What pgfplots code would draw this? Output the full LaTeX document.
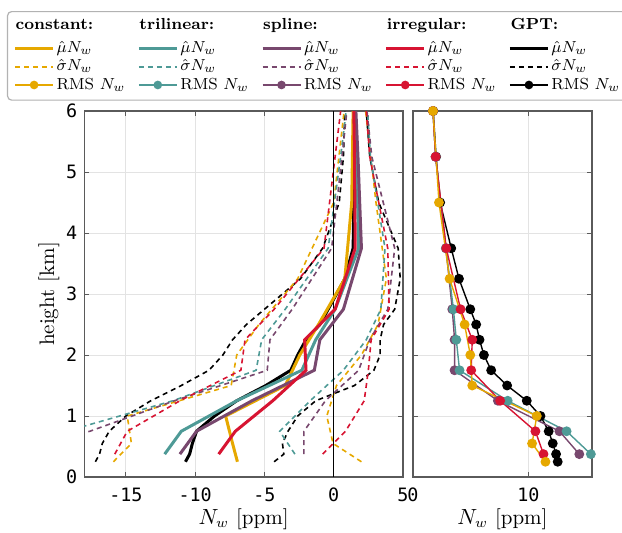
\documentclass[border=0pt]{standalone}
\usepackage{pgfplots}
\pgfplotsset{compat=1.18}
\usepackage{fontspec}
\newfontfamily\tickfont{DejaVu Sans Mono}
\definecolor{cgold}{RGB}{230,168,0}
\definecolor{cteal}{RGB}{78,154,150}
\definecolor{cpurp}{RGB}{120,72,110}
\definecolor{cred}{RGB}{215,20,50}
\definecolor{frame}{RGB}{90,90,90}
\pgfplotsset{
  mu/.style={line width=1.5pt},
  sig/.style={line width=0.8pt, dash pattern=on 2.5pt off 2pt},
  rms/.style={line width=0.7pt, mark=*, mark size=2.1pt, mark options={solid}},
  hdr/.style={legend image code/.code={\path[draw=none,fill=none] (0pt,-9pt) -- (0pt,2pt); \node[overlay,anchor=west,inner sep=0pt,font=\footnotesize\bfseries,text=black] at (0pt,-2pt) {#1};}},
  common/.style={
    scale only axis, height=183pt, ymin=0, ymax=6,
    ytick={0,1,2,3,4,5,6},
    axis line style={frame, line width=0.6pt},
    major tick style={frame, line width=0.5pt},
    major tick length=2.5pt,
    tick align=inside,
    grid=major, major grid style={gray!22, line width=0.5pt},
    tick label style={font=\tickfont\fontsize{9.2}{11}\selectfont},
    xticklabel style={yshift=-2pt},
    label style={font=\fontsize{10.5}{12}\selectfont},
    xlabel shift=-3.5pt,
  },
}
\begin{document}
\begin{tikzpicture}
\begin{axis}[common,
  width=159.35pt,
  xmin=-18, xmax=5,
  xtick={-15,-10,-5,0,5}, xticklabels={-15,-10,-5,0,5},
  yticklabels={0,1,2,3,4,5,6},
  xlabel={$N_w$ [ppm]}, ylabel={height [km]},
  ylabel shift=-3.5pt,
  legend columns=5,
  legend image code/.code={\draw[mark repeat=2,mark phase=2] plot coordinates {(0pt,0pt) (9.5pt,0pt) (19pt,0pt)};},
  legend style={at={(-0.2426,1.2732)}, anchor=north west, draw=gray!60, line width=0.6pt,
    rounded corners=2pt, font=\footnotesize, legend cell align=left,
    /tikz/every even column/.append style={column sep=5pt},
    nodes={inner sep=1pt}, inner sep=3pt},
]
% sigma dashed lines (left and right)
\addplot[sig, black, forget plot] coordinates {(-17.2,0.25) (-16.9,0.375) (-16.7,0.55) (-16.2,0.75) (-15.0,1.0) (-13.2,1.25) (-11.0,1.5) (-9.0,1.75) (-8.0,2.0) (-7.3,2.25) (-6.3,2.5) (-5.0,2.75) (-2.4,3.25) (-0.8,3.75) (0.4,4.5) (0.7,5.25) (0.8,6.0)};
\addplot[sig, black, forget plot] coordinates {(-4.3,0.25) (-3.6,0.375) (-3.7,0.55) (-3.3,0.75) (-2.6,1.0) (-1.3,1.25) (1.5,1.5) (2.9,1.75) (3.35,2.0) (3.35,2.25) (3.6,2.5) (4.4,2.75) (4.8,3.25) (4.65,3.75) (3.25,4.5) (2.6,5.25) (2.35,6.0)};
\addplot[sig, cgold, forget plot] coordinates {(-15.9,0.25) (-14.6,0.55) (-14.9,1.0) (-7.4,1.5) (-7.0,2.0) (-5.4,2.5) (-2.6,3.25) (0.0,4.5) (0.75,6.0)};
\addplot[sig, cgold, forget plot] coordinates {(2.0,0.25) (-0.05,0.55) (-0.5,1.0) (0.2,1.5) (2.0,2.0) (3.2,2.5) (3.8,3.25) (3.05,4.5) (2.3,6.0)};
\addplot[sig, cteal, forget plot] coordinates {(-23,0.375) (-19.3,0.75) (-11.6,1.25) (-5.6,1.75) (-5.2,2.25) (-3.5,2.75) (-0.4,3.75) (0.5,5.25) (0.9,6.0)};
\addplot[sig, cteal, forget plot] coordinates {(-2.8,0.375) (-3.9,0.75) (-1.7,1.25) (0.7,1.75) (2.35,2.25) (3.4,2.75) (3.7,3.75) (2.65,5.25) (2.45,6.0)};
\addplot[sig, cpurp, forget plot] coordinates {(-24,0.375) (-17.6,0.75) (-11.5,1.25) (-4.8,1.75) (-4.6,2.25) (-3.0,2.75) (-0.15,3.75) (0.6,5.25) (0.95,6.0)};
\addplot[sig, cpurp, forget plot] coordinates {(-2.15,0.375) (-2.15,0.75) (-0.6,1.25) (1.8,1.75) (2.6,2.25) (3.9,2.75) (4.4,3.75) (2.75,5.25) (2.4,6.0)};
\addplot[sig, cred, forget plot] coordinates {(-15.8,0.375) (-14.9,0.75) (-11.1,1.25) (-6.7,1.75) (-6.4,2.25) (-4.3,2.75) (-0.7,3.75) (0.1,5.25) (0.5,6.0)};
\addplot[sig, cred, forget plot] coordinates {(-0.8,0.375) (0.85,0.75) (2.2,1.25) (2.5,1.75) (2.7,2.25) (4.0,2.75) (3.9,3.75) (2.6,5.25) (2.35,6.0)};
% zero line
\addplot[black, line width=0.6pt, forget plot] coordinates {(0,0) (0,6)};
% mean lines
\addplot[mu, black, forget plot] coordinates {(-10.7,0.25) (-10.4,0.375) (-10.2,0.55) (-9.9,0.75) (-8.6,1.0) (-7.0,1.25) (-4.9,1.5) (-3.1,1.75) (-2.6,2.0) (-2.0,2.25) (-1.0,2.5) (-0.4,2.75) (0.8,3.25) (1.4,3.75) (1.45,4.5) (1.5,5.25) (1.5,6.0)};
\addplot[mu, cgold, forget plot] coordinates {(-6.95,0.25) (-7.3,0.55) (-7.8,1.0) (-3.5,1.5) (-2.45,2.0) (-1.1,2.5) (0.8,3.25) (1.3,4.5) (1.4,6.0)};
\addplot[mu, cteal, forget plot] coordinates {(-12.2,0.375) (-11.0,0.75) (-7.0,1.25) (-2.3,1.75) (-1.3,2.25) (0.1,2.75) (1.8,3.75) (1.65,5.25) (1.55,6.0)};
\addplot[mu, cpurp, forget plot] coordinates {(-11.1,0.375) (-9.9,0.75) (-5.9,1.25) (-1.4,1.75) (-1.0,2.25) (0.7,2.75) (2.0,3.75) (1.75,5.25) (1.6,6.0)};
\addplot[mu, cred, forget plot] coordinates {(-8.3,0.375) (-7.1,0.75) (-4.4,1.25) (-2.0,1.75) (-2.1,2.25) (0.1,2.75) (1.55,3.75) (1.5,5.25) (1.45,6.0)};
% legend
\addlegendimage{hdr={constant:}}\addlegendentry{\hbox{}}
\addlegendimage{hdr={trilinear:}}\addlegendentry{\hbox{}}
\addlegendimage{hdr={spline:}}\addlegendentry{\hbox{}}
\addlegendimage{hdr={irregular:}}\addlegendentry{\hbox{}}
\addlegendimage{hdr={GPT:}}\addlegendentry{\hbox{}}
\addlegendimage{mu, cgold}\addlegendentry{$\hat\mu N_w$}
\addlegendimage{mu, cteal}\addlegendentry{$\hat\mu N_w$}
\addlegendimage{mu, cpurp}\addlegendentry{$\hat\mu N_w$}
\addlegendimage{mu, cred}\addlegendentry{$\hat\mu N_w$}
\addlegendimage{mu, black}\addlegendentry{$\hat\mu N_w$}
\addlegendimage{sig, cgold}\addlegendentry{$\hat\sigma N_w$}
\addlegendimage{sig, cteal}\addlegendentry{$\hat\sigma N_w$}
\addlegendimage{sig, cpurp}\addlegendentry{$\hat\sigma N_w$}
\addlegendimage{sig, cred}\addlegendentry{$\hat\sigma N_w$}
\addlegendimage{sig, black}\addlegendentry{$\hat\sigma N_w$}
\addlegendimage{rms, cgold, mark size=1.8pt}\addlegendentry{RMS $N_w$}
\addlegendimage{rms, cteal, mark size=1.8pt}\addlegendentry{RMS $N_w$}
\addlegendimage{rms, cpurp, mark size=1.8pt}\addlegendentry{RMS $N_w$}
\addlegendimage{rms, cred, mark size=1.8pt}\addlegendentry{RMS $N_w$}
\addlegendimage{rms, black, mark size=1.8pt}\addlegendentry{RMS $N_w$}
\end{axis}
\begin{axis}[common,
  at={(164.35pt,0pt)},
  width=89.5pt,
  xmin=0, xmax=15.5,
  xtick={0,10}, xticklabels={0,10},
  yticklabels={},
  xlabel={$N_w$ [ppm]},
]
\addplot[rms, black] coordinates {(12.53,0.25) (12.39,0.375) (12.1,0.55) (11.75,0.75) (11.04,1.0) (9.85,1.25) (8.15,1.5) (6.77,1.75) (6.14,2.0) (5.76,2.25) (5.47,2.5) (4.96,2.75) (3.98,3.25) (3.31,3.75) (2.35,4.5) (2.0,5.25) (1.75,6.0)};
\addplot[rms, cpurp] coordinates {(14.4,0.375) (12.68,0.75) (7.35,1.25) (3.6,1.75) (3.6,2.25) (3.4,2.75) (2.85,3.75) (1.96,5.25) (1.73,6.0)};
\addplot[rms, cteal] coordinates {(15.4,0.375) (13.3,0.75) (8.2,1.25) (4.03,1.75) (3.75,2.25) (3.5,2.75) (2.85,3.75) (1.96,5.25) (1.73,6.0)};
\addplot[rms, cred] coordinates {(11.3,0.375) (10.6,0.75) (7.55,1.25) (5.04,1.75) (5.13,2.25) (4.12,2.75) (2.88,3.75) (1.96,5.25) (1.73,6.0)};
\addplot[rms, cgold] coordinates {(11.47,0.25) (10.31,0.55) (10.72,1.0) (5.13,1.5) (4.96,2.0) (4.47,2.5) (3.17,3.25) (2.25,4.5) (1.73,6.0)};
\end{axis}
\pgfresetboundingbox
\path[use as bounding box] (-42.15pt,-27.5pt) rectangle (268.85pt,238.5pt);
\end{tikzpicture}
\end{document}
